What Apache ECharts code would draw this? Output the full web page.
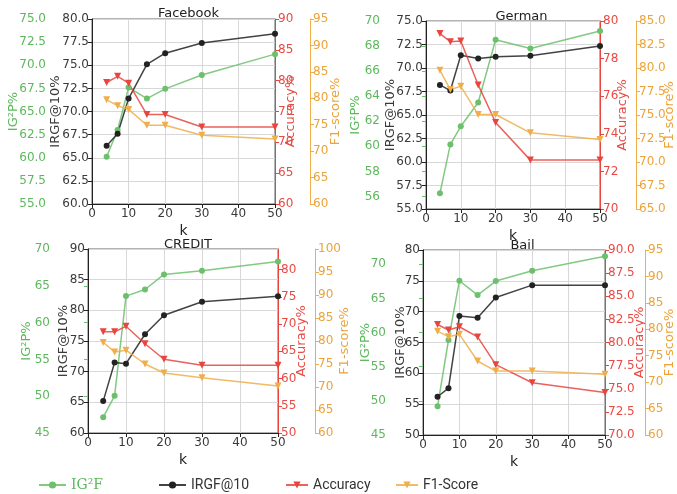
<!DOCTYPE html>
<html>
<head>
<meta charset="utf-8">
<script src="https://cdn.jsdelivr.net/npm/echarts@6/dist/echarts.min.js"></script>
<style>
  html, body { margin: 0; padding: 0; background: #fff; }
  #chart-root { width: 677px; height: 494px; }
</style>
</head>
<body>
<div id="chart-root"></div>
<script>
(function () {
  const kValues = [4, 7, 10, 15, 20, 30, 50];
  const xTicks = [0, 10, 20, 30, 40, 50];

  // Facebook
  const facebookIG2F = [60.1, 63.0, 67.6, 66.4, 67.45, 68.95, 71.2];
  const facebookIRGF = [66.3, 67.6, 71.4, 75.1, 76.3, 77.4, 78.4];
  const facebookAcc = [79.7, 80.7, 79.6, 74.5, 74.5, 72.5, 72.5];
  const facebookF1 = [79.7, 78.6, 77.9, 74.9, 74.9, 73.0, 72.3];
  const facebookIG2Ticks = [55, 57.5, 60, 62.5, 65, 67.5, 70, 72.5, 75];
  const facebookIRGFTicks = [60, 62.5, 65, 67.5, 70, 72.5, 75, 77.5, 80];
  const facebookAccTicks = [60, 65, 70, 75, 80, 85, 90];
  const facebookF1Ticks = [60, 65, 70, 75, 80, 85, 90, 95];

  // German
  const germanIG2F = [56.25, 60.15, 61.6, 63.5, 68.5, 67.8, 69.2];
  const germanIRGF = [68.2, 67.6, 71.35, 71.0, 71.2, 71.3, 72.35];
  const germanAcc = [79.33, 78.9, 78.94, 76.6, 74.6, 72.6, 72.6];
  const germanF1 = [79.75, 77.7, 78.05, 75.05, 75.05, 73.1, 72.4];
  const germanIG2Ticks = [56, 58, 60, 62, 64, 66, 68, 70];
  const germanIRGFTicks = [55, 57.5, 60, 62.5, 65, 67.5, 70, 72.5, 75];
  const germanAccTicks = [70, 72, 74, 76, 78, 80];
  const germanF1Ticks = [65, 67.5, 70, 72.5, 75, 77.5, 80, 82.5, 85];

  // CREDIT
  const creditIG2F = [47.15, 50.05, 63.6, 64.5, 66.55, 67.05, 68.3];
  const creditIRGF = [65.2, 71.5, 71.3, 76.1, 79.2, 81.4, 82.3];
  const creditAcc = [68.6, 68.6, 69.6, 66.4, 63.55, 62.45, 62.45];
  const creditF1 = [79.7, 77.6, 78.0, 75.0, 73.05, 72.0, 70.2];
  const creditIG2Ticks = [45, 50, 55, 60, 65, 70];
  const creditIRGFTicks = [60, 65, 70, 75, 80, 85, 90];
  const creditAccTicks = [50, 55, 60, 65, 70, 75, 80];
  const creditF1Ticks = [60, 65, 70, 75, 80, 85, 90, 95, 100];

  // Bail
  const bailIG2F = [49.2, 58.9, 67.6, 65.5, 67.55, 69.05, 71.2];
  const bailIRGF = [56.2, 57.6, 69.3, 69.0, 72.3, 74.3, 74.3];
  const bailAcc = [81.95, 81.35, 81.7, 80.6, 77.6, 75.65, 74.6];
  const bailF1 = [79.65, 78.6, 79.05, 74.0, 72.1, 72.1, 71.5];
  const bailIG2Ticks = [45, 50, 55, 60, 65, 70];
  const bailIRGFTicks = [50, 55, 60, 65, 70, 75, 80];
  const bailAccTicks = [70, 72.5, 75, 77.5, 80, 82.5, 85, 87.5, 90];
  const bailF1Ticks = [60, 65, 70, 75, 80, 85, 90, 95];

  const GREEN = '#6cc06c', GREEN_TXT = '#5cb85c';
  const BLACK = '#222', DARK_TXT = '#3a3a3a';
  const RED = '#e8453f', RED_TXT = '#e84a45';
  const ORANGE = '#efae4a', ORANGE_TXT = '#eba33a';
  const FONT = 'DejaVu Sans';

  const panels = [
    { title: 'Facebook', grid: { left: 92, top: 19, width: 183, height: 185 }, titleTop: 2,
      ig2: facebookIG2F, irgf: facebookIRGF, acc: facebookAcc, f1: facebookF1,
      ig2Ticks: facebookIG2Ticks, irgfTicks: facebookIRGFTicks, accTicks: facebookAccTicks, f1Ticks: facebookF1Ticks,
      ig2Range: [55, 75], irgfRange: [60, 80], accRange: [60, 90], f1Range: [60, 95],
      dec: [1, 1, 0, 0], ig2Off: 43, f1Off: 35, gaps: [29, 30, 9, 19] },
    { title: 'German', grid: { left: 426, top: 21, width: 181, height: 188 }, titleTop: 5,
      ig2: germanIG2F, irgf: germanIRGF, acc: germanAcc, f1: germanF1,
      ig2Ticks: germanIG2Ticks, irgfTicks: germanIRGFTicks, accTicks: germanAccTicks, f1Ticks: germanF1Ticks,
      ig2Range: [55, 70], irgfRange: [55, 75], accRange: [70, 80], f1Range: [65, 85],
      dec: [0, 1, 0, 1], ig2Off: 43, f1Off: 36, gaps: [21, 29, 16, 27] },
    { title: 'CREDIT', grid: { left: 88, top: 249, width: 190, height: 184 }, titleTop: 233,
      ig2: creditIG2F, irgf: creditIRGF, acc: creditAcc, f1: creditF1,
      ig2Ticks: creditIG2Ticks, irgfTicks: creditIRGFTicks, accTicks: creditAccTicks, f1Ticks: creditF1Ticks,
      ig2Range: [45, 70], irgfRange: [60, 90], accRange: [50, 83.8], f1Range: [60, 100],
      dec: [0, 0, 0, 0], ig2Off: 35, f1Off: 37, gaps: [20, 18, 17, 23] },
    { title: 'Bail', grid: { left: 423, top: 250, width: 189, height: 185 }, titleTop: 234,
      ig2: bailIG2F, irgf: bailIRGF, acc: bailAcc, f1: bailF1,
      ig2Ticks: bailIG2Ticks, irgfTicks: bailIRGFTicks, accTicks: bailAccTicks, f1Ticks: bailF1Ticks,
      ig2Range: [45, 72.1], irgfRange: [50, 80], accRange: [70, 90], f1Range: [60, 95],
      dec: [0, 0, 1, 0], ig2Off: 34, f1Off: 40, gaps: [17, 16, 28, 18] }
  ];

  const grids = [], xAxes = [], yAxes = [], series = [], titles = [];

  function yAxis(gi, name, range, ticks, dec, pos, offset, gap, lineColor, txtColor, split) {
    return {
      type: 'value', gridIndex: gi, position: pos, offset: offset,
      min: range[0], max: range[1],
      name: name, nameLocation: 'middle', nameGap: gap, nameRotate: 90, nameMoveOverlap: false,
      nameTextStyle: { color: txtColor, fontSize: 13, fontFamily: FONT },
      axisLine: { show: true, lineStyle: { color: lineColor, width: 1 } },
      axisTick: { show: true, length: 4, customValues: ticks, lineStyle: { color: lineColor } },
      axisLabel: { customValues: ticks, color: txtColor, fontSize: 12, fontFamily: FONT, margin: 3,
        formatter: function (v) { return v.toFixed(dec); } },
      splitLine: { show: split, lineStyle: { color: '#d8d8d8', width: 1 } }
    };
  }

  function line(name, gi, yi, values, color, symbol) {
    return {
      name: name, type: 'line', xAxisIndex: gi, yAxisIndex: yi,
      data: kValues.map(function (k, i) { return [k, values[i]]; }),
      symbol: symbol, symbolSize: symbol === 'circle' ? 6 : 7,
      symbolRotate: symbol === 'triangle' ? 180 : 0,
      lineStyle: { color: color, width: 1.5, opacity: 0.85 },
      itemStyle: { color: color },
      emphasis: { disabled: true }, animation: false
    };
  }

  panels.forEach(function (p, gi) {
    grids.push(Object.assign({ show: true, borderColor: '#666', borderWidth: 1, backgroundColor: '#fff' }, p.grid));
    titles.push({ text: p.title, left: p.grid.left + p.grid.width / 2, top: p.titleTop, textAlign: 'center',
      textStyle: { fontSize: 13, fontWeight: 'normal', color: '#222', fontFamily: FONT } });
    xAxes.push({
      type: 'value', gridIndex: gi, min: 0, max: 50, interval: 10,
      name: 'k', nameLocation: 'middle', nameGap: 20, nameMoveOverlap: false,
      nameTextStyle: { color: '#222', fontSize: 14, fontFamily: FONT },
      axisLine: { show: true, lineStyle: { color: '#222' } },
      axisTick: { show: true, length: 4, customValues: xTicks },
      axisLabel: { customValues: xTicks, color: DARK_TXT, fontSize: 12, fontFamily: FONT, margin: 4 },
      splitLine: { show: true, lineStyle: { color: '#d8d8d8', width: 1 } }
    });
    const base = yAxes.length;
    yAxes.push(yAxis(gi, 'IG²P%', p.ig2Range, p.ig2Ticks, p.dec[0], 'left', p.ig2Off, p.gaps[0], GREEN, GREEN_TXT, false));
    yAxes.push(yAxis(gi, 'IRGF@10%', p.irgfRange, p.irgfTicks, p.dec[1], 'left', 0, p.gaps[1], BLACK, DARK_TXT, true));
    yAxes.push(yAxis(gi, 'Accuracy%', p.accRange, p.accTicks, p.dec[2], 'right', 0, p.gaps[2], RED, RED_TXT, false));
    yAxes.push(yAxis(gi, 'F1-score%', p.f1Range, p.f1Ticks, p.dec[3], 'right', p.f1Off, p.gaps[3], ORANGE, ORANGE_TXT, false));
    series.push(line('IG²F', gi, base, p.ig2, GREEN, 'circle'));
    series.push(line('IRGF@10', gi, base + 1, p.irgf, BLACK, 'circle'));
    series.push(line('Accuracy', gi, base + 2, p.acc, RED, 'triangle'));
    series.push(line('F1-Score', gi, base + 3, p.f1, ORANGE, 'triangle'));
  });

  function legendItem(name, left, width, color, family) {
    return {
      left: left, top: 473, itemWidth: width, itemHeight: 9, itemGap: 8, selectedMode: false,
      data: [{ name: name, textStyle: { color: color, fontFamily: family, fontSize: 14 } }]
    };
  }

  const chart = echarts.init(document.getElementById('chart-root'), null, { renderer: 'canvas' });
  chart.setOption({
    backgroundColor: '#fff',
    animation: false,
    title: titles,
    legend: [
      legendItem('IG²F', 33, 27, GREEN_TXT, 'DejaVu Serif'),
      legendItem('IRGF@10', 153, 27, '#333', 'Roboto'),
      legendItem('Accuracy', 280, 22, '#333', 'Roboto'),
      legendItem('F1-Score', 390, 22, '#333', 'Roboto')
    ],
    grid: grids,
    xAxis: xAxes,
    yAxis: yAxes,
    series: series
  });
}());
</script>
</body>
</html>
